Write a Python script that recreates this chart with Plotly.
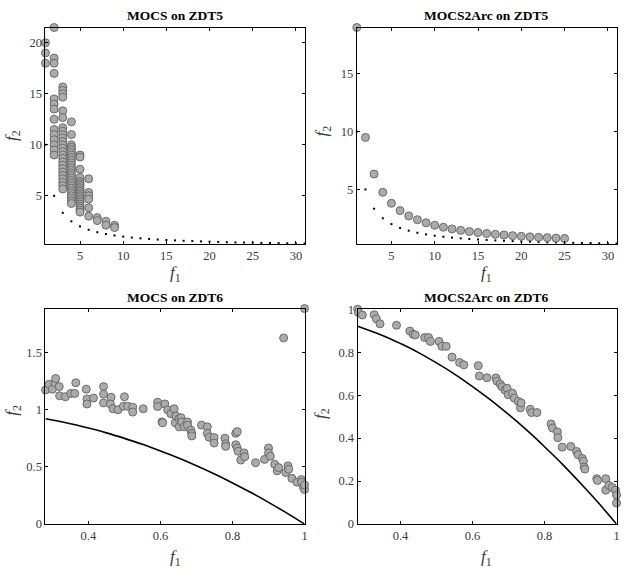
import plotly.graph_objects as go

# ---------------- data ----------------
# ZDT5 true front (dotted), f1 = 1..31
zdt5_front_f1 = list(range(1, 32))
zdt5_front_f2 = [10, 5, 3.33, 2.5, 2, 1.67, 1.43, 1.25, 1.11, 1.0, 0.91, 0.83, 0.77, 0.71,
                 0.67, 0.63, 0.59, 0.56, 0.53, 0.5, 0.48, 0.45, 0.43, 0.42, 0.4, 0.38,
                 0.37, 0.36, 0.34, 0.33, 0.32]

# MOCS on ZDT5 (columns of points at integer f1)
mocs5_c1 = [20, 19, 18]
mocs5_c2 = [21.5, 18.5, 18, 17, 14.5, 14, 13.5, 12.5, 11.5, 11, 10.5, 10, 9.5, 9]
mocs5_c3 = [15.67, 15.33, 15, 14.67, 13.33, 12.67, 11.67, 11.33, 11, 10.67, 10.33, 10,
            9.67, 9.33, 9, 8.67, 8.33, 8, 7.67, 7.33, 7, 6.67, 6.33, 6, 5.67]
mocs5_c4 = [12.25, 11, 10, 9.75, 9.5, 9.25, 9, 8.75, 8.5, 8.25, 8, 7.75, 7.5, 7.25, 7,
            6.75, 6.5, 6.25, 6, 5.75, 5.5, 5.25, 5, 4.75, 4.5, 4.25]
mocs5_c5 = [9, 8.8, 7.6, 6.8, 6.4, 6.2, 6, 5.8, 5.6, 5.4, 5.2, 5, 4.8, 4.6, 4.4, 4.2,
            4, 3.8, 3.6, 3.4]
mocs5_c6 = [6.67, 5.33, 5, 4.67, 3.83, 3.0]
mocs5_c7 = [2.86, 2.57]
mocs5_c8 = [2.5, 2.12]
mocs5_c9 = [2.11, 1.89]
mocs5_cols = [mocs5_c1, mocs5_c2, mocs5_c3, mocs5_c4, mocs5_c5, mocs5_c6, mocs5_c7,
              mocs5_c8, mocs5_c9]

# MOCS2Arc on ZDT5
arc5_f1 = list(range(1, 26))
arc5_f2 = [19, 9.5, 6.33, 4.75, 3.8, 3.17, 2.71, 2.38, 2.11, 1.9, 1.73, 1.58, 1.46,
           1.36, 1.27, 1.19, 1.12, 1.06, 1.0, 0.95, 0.9, 0.86, 0.83, 0.79, 0.76]

# ZDT6 true front (solid line)
zdt6_front_f1 = [0.2808, 0.35, 0.4, 0.45, 0.5, 0.55, 0.6, 0.65, 0.7, 0.75, 0.8, 0.85,
                 0.9, 0.95, 1.0]
zdt6_front_f2 = [0.921, 0.878, 0.84, 0.798, 0.75, 0.698, 0.64, 0.578, 0.51, 0.438,
                 0.36, 0.278, 0.19, 0.098, 0.0]

# MOCS on ZDT6
mocs6_f1 = [0.281, 0.291, 0.300, 0.307, 0.309, 0.319, 0.320, 0.336, 0.351, 0.362, 0.365,
            0.394, 0.396, 0.396, 0.414, 0.442, 0.442, 0.442, 0.463, 0.461, 0.468, 0.482,
            0.500, 0.497, 0.509, 0.523, 0.523, 0.552, 0.592, 0.592, 0.604, 0.606, 0.612,
            0.620, 0.629, 0.638, 0.641, 0.643, 0.652, 0.652, 0.657, 0.659, 0.666, 0.675,
            0.675, 0.684, 0.687, 0.687, 0.714, 0.730, 0.730, 0.735, 0.749, 0.749, 0.779,
            0.781, 0.781, 0.809, 0.813, 0.809, 0.813, 0.816, 0.823, 0.832, 0.834, 0.864,
            0.889, 0.900, 0.900, 0.905, 0.917, 0.924, 0.928, 0.948, 0.954, 0.956, 0.965,
            0.979, 0.991, 0.992, 0.997, 1.0, 1.0, 0.942, 1.0]
mocs6_f2 = [1.174, 1.223, 1.18, 1.237, 1.274, 1.203, 1.123, 1.114, 1.143, 1.143, 1.237,
            1.18, 1.094, 1.051, 1.103, 1.203, 1.137, 1.06, 1.109, 1.051, 1.009, 1.0,
            1.114, 1.031, 1.031, 1.023, 0.98, 1.009, 1.066, 1.029, 0.894, 0.886, 1.051,
            1.0, 0.966, 1.009, 0.886, 0.946, 0.923, 0.851, 0.931, 0.894, 0.851, 0.894,
            0.866, 0.823, 0.794, 0.771, 0.866, 0.851, 0.794, 0.76, 0.757, 0.709, 0.751,
            0.703, 0.68, 0.794, 0.809, 0.694, 0.666, 0.637, 0.56, 0.623, 0.589, 0.537,
            0.566, 0.666, 0.623, 0.594, 0.523, 0.466, 0.494, 0.451, 0.509, 0.48, 0.4,
            0.366, 0.389, 0.366, 0.323, 0.303, 0.343, 1.629, 1.886]

# MOCS2Arc on ZDT6
arc6_f1 = [0.281, 0.283, 0.294, 0.327, 0.333, 0.343, 0.389, 0.426, 0.435, 0.441, 0.467,
           0.478, 0.483, 0.507, 0.515, 0.527, 0.543, 0.564, 0.576, 0.616, 0.619, 0.640,
           0.665, 0.668, 0.677, 0.682, 0.690, 0.696, 0.699, 0.711, 0.716, 0.727, 0.733,
           0.735, 0.760, 0.764, 0.779, 0.818, 0.822, 0.836, 0.837, 0.849, 0.873, 0.889,
           0.893, 0.905, 0.908, 0.910, 0.912, 0.945, 0.947, 0.970, 0.970, 0.979, 0.988,
           0.997, 1.0, 1.0]
arc6_f2 = [1.0, 0.985, 0.973, 0.974, 0.955, 0.932, 0.925, 0.898, 0.883, 0.880, 0.868,
           0.868, 0.85, 0.85, 0.827, 0.827, 0.777, 0.752, 0.741, 0.737, 0.689, 0.681,
           0.680, 0.665, 0.651, 0.639, 0.624, 0.632, 0.602, 0.609, 0.586, 0.571, 0.541,
           0.564, 0.534, 0.519, 0.519, 0.466, 0.447, 0.429, 0.402, 0.358, 0.361, 0.338,
           0.323, 0.305, 0.293, 0.266, 0.256, 0.211, 0.203, 0.211, 0.158, 0.18, 0.17,
           0.158, 0.135, 0.098]

titles = ["MOCS on ZDT5", "MOCS2Arc on ZDT5", "MOCS on ZDT6", "MOCS2Arc on ZDT6"]

# ---------------- figure ----------------
W, H = 629, 578
ML, MR, MT, MB = 0, 0, 0, 0
PW, PH = W - ML - MR, H - MT - MB
FONT = "Liberation Serif, Times New Roman, serif"
MK = dict(size=8, color="#ababab", line=dict(color="#6a6a6a", width=1))
DOT = dict(symbol="square", size=2.0, color="black", line=dict(width=0))

fig = go.Figure()

mocs5_f1 = []
mocs5_f2 = []
for i, col in enumerate(mocs5_cols):
    mocs5_f1 += [i + 1] * len(col)
    mocs5_f2 += col

# panel 1
fig.add_trace(go.Scatter(x=zdt5_front_f1, y=zdt5_front_f2, mode="markers", marker=DOT,
                         xaxis="x", yaxis="y", cliponaxis=False))
fig.add_trace(go.Scatter(x=mocs5_f1, y=mocs5_f2, mode="markers", marker=MK,
                         xaxis="x", yaxis="y", cliponaxis=False))
# panel 2
fig.add_trace(go.Scatter(x=zdt5_front_f1, y=zdt5_front_f2, mode="markers", marker=DOT,
                         xaxis="x2", yaxis="y2", cliponaxis=False))
fig.add_trace(go.Scatter(x=arc5_f1, y=arc5_f2, mode="markers", marker=MK,
                         xaxis="x2", yaxis="y2", cliponaxis=False))
# panel 3
fig.add_trace(go.Scatter(x=zdt6_front_f1, y=zdt6_front_f2, mode="lines",
                         line=dict(color="black", width=1.6, shape="spline"),
                         xaxis="x3", yaxis="y3"))
fig.add_trace(go.Scatter(x=mocs6_f1, y=mocs6_f2, mode="markers", marker=MK,
                         xaxis="x3", yaxis="y3", cliponaxis=False))
# panel 4
fig.add_trace(go.Scatter(x=zdt6_front_f1, y=zdt6_front_f2, mode="lines",
                         line=dict(color="black", width=1.6, shape="spline"),
                         xaxis="x4", yaxis="y4"))
fig.add_trace(go.Scatter(x=arc6_f1, y=arc6_f2, mode="markers", marker=MK,
                         xaxis="x4", yaxis="y4", cliponaxis=False))


def fx(px):
    return (px - ML) / PW


def fy(py):
    return 1 - (py - MT) / PH


def px_dom_x(a, b):
    return [fx(a), fx(b)]


def px_dom_y(top, bottom):
    return [fy(bottom), fy(top)]


axis_common = dict(showline=True, linecolor="black", linewidth=1, mirror="ticks",
                   ticks="inside", ticklen=3, tickcolor="black", showgrid=False,
                   zeroline=False, tickfont=dict(family=FONT, size=12.5, color="#3a3a3a"))

doms = [
    (px_dom_x(45.7, 306), px_dom_y(22, 243)),
    (px_dom_x(358.5, 619.5), px_dom_y(22, 243)),
    (px_dom_x(45.7, 306), px_dom_y(309.5, 530)),
    (px_dom_x(359.3, 619.5), px_dom_y(309.5, 530)),
]
xranges = [[1, 31], [1, 31], [0.2808, 1], [0.2808, 1]]
yranges = [[0.32, 21.5], [0.32, 19], [0, 1.886], [0, 1.003]]
xticks = [[5, 10, 15, 20, 25, 30], [5, 10, 15, 20, 25, 30], [0.4, 0.6, 0.8, 1],
          [0.4, 0.6, 0.8, 1]]
yticks = [[5, 10, 15, 20], [5, 10, 15], [0, 0.5, 1, 1.5], [0, 0.2, 0.4, 0.6, 0.8, 1]]

layout = dict(width=W, height=H, margin=dict(l=ML, r=MR, t=MT, b=MB),
              paper_bgcolor="white", plot_bgcolor="white", showlegend=False)
for i in range(4):
    s = "" if i == 0 else str(i + 1)
    layout["xaxis" + s] = dict(axis_common, domain=doms[i][0], range=xranges[i],
                               tickvals=xticks[i], anchor="y" + s)
    layout["yaxis" + s] = dict(axis_common, domain=doms[i][1], range=yranges[i],
                               tickvals=yticks[i], anchor="x" + s)
fig.update_layout(**layout)

ann = []
title_pos = [(176, 10), (489, 10), (176, 298), (489, 298)]
xlab_pos = [(176, 274), (489, 274), (176, 565), (489, 565)]
ylab_pos = [(13, 132), (325, 128), (13, 413), (323, 417)]
for i in range(4):
    tx, ty = title_pos[i]
    ann.append(dict(text="<b>" + titles[i] + "</b>", x=fx(tx), y=fy(ty),
                    xref="paper", yref="paper", showarrow=False,
                    font=dict(family=FONT, size=13.5, color="black"),
                    xanchor="center", yanchor="middle"))
    lx, ly = xlab_pos[i]
    ann.append(dict(text="<i>f</i><sub>1</sub>", x=fx(lx), y=fy(ly),
                    xref="paper", yref="paper", showarrow=False,
                    font=dict(family=FONT, size=17, color="#3a3a3a"),
                    xanchor="center", yanchor="middle"))
    yx, yy = ylab_pos[i]
    ann.append(dict(text="<i>f</i><sub>2</sub>", x=fx(yx), y=fy(yy),
                    xref="paper", yref="paper", showarrow=False, textangle=-90,
                    font=dict(family=FONT, size=17, color="#3a3a3a"),
                    xanchor="center", yanchor="middle"))
fig.update_layout(annotations=ann)

fig.write_html("out.html",
               config={"displayModeBar": False},
               post_script="document.body.style.margin='0';"
                           "document.body.style.padding='0';"
                           "document.body.style.overflow='hidden';")
